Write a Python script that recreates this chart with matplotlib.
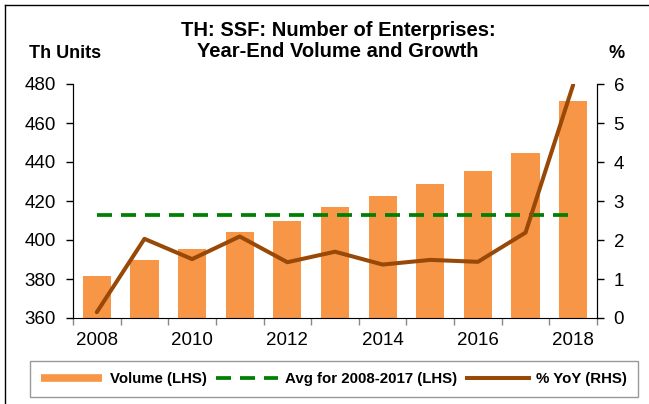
import matplotlib
matplotlib.use("Agg")
import matplotlib.pyplot as plt
from matplotlib.lines import Line2D
import numpy as np

plt.rcParams["font.family"] = ["Liberation Sans", "DejaVu Sans"]

years = [2008, 2009, 2010, 2011, 2012, 2013, 2014, 2015, 2016, 2017, 2018]
volume = [381.7, 389.6, 395.5, 404.0, 409.6, 416.9, 422.4, 428.7, 435.2, 444.4, 471.3]
yoy = [0.15, 2.03, 1.51, 2.09, 1.43, 1.70, 1.37, 1.49, 1.44, 2.19, 5.98]
avg_value = 412.8  # mean of 2008-2017 volumes

ORANGE = "#F79646"
BROWN = "#984807"
GREEN = "#008000"
DASH = (0, (4, 2.4))

W, H = 649, 404
fig = plt.figure(figsize=(W / 100, H / 100), dpi=100)
ax = fig.add_axes([73 / W, 86 / H, 524 / W, 234 / H])
ax2 = ax.twinx()

x = np.arange(len(years))
ax.bar(x, volume, width=0.59, color=ORANGE, zorder=2)
ax.plot(x, [avg_value] * len(x), color=GREEN, lw=2.7, ls=DASH, zorder=3)
ax2.plot(x, yoy, color=BROWN, lw=2.9, solid_capstyle="round", zorder=4)

ax.set_xlim(-0.5, len(years) - 0.5)
ax.set_ylim(360, 480)
ax.set_yticks(np.arange(360, 481, 20))
ax2.set_ylim(0, 6)
ax2.set_yticks(range(0, 7))

ax.set_xticks(x[::2])
ax.set_xticklabels([str(y) for y in years[::2]])
ax.set_xticks(np.arange(-0.5, len(years)), minor=True)
ax.tick_params(axis="x", which="major", length=0, pad=10, labelsize=13.5)
ax.tick_params(axis="x", which="minor", length=5, color="#888888", width=1)
ax.tick_params(axis="y", direction="out", length=5, width=1, color="black",
               labelsize=13.5, pad=7.5)
ax2.tick_params(axis="y", direction="out", length=5, width=1, color="black",
                labelsize=13.5, pad=7)

for a in (ax, ax2):
    a.spines["top"].set_visible(False)
ax2.spines["bottom"].set_visible(False)

fig.text(338 / W, 1 - 41 / H, "TH: SSF: Number of Enterprises:\nYear-End Volume and Growth",
         ha="center", va="center", fontsize=14.5, fontweight="bold", linespacing=1.12)
fig.text(29 / W, 1 - 53 / H, "Th Units", ha="left", va="center",
         fontsize=13, fontweight="bold")
fig.text(617 / W, 1 - 54 / H, "%", ha="center", va="center",
         fontsize=13, fontweight="bold")

handles = [
    Line2D([], [], color=ORANGE, lw=5.5, solid_capstyle="butt"),
    Line2D([], [], color=GREEN, lw=2.7, ls=DASH),
    Line2D([], [], color=BROWN, lw=2.9),
]
labels = ["Volume (LHS)", "Avg for 2008-2017 (LHS)", "% YoY (RHS)"]
leg = fig.legend(handles, labels, loc="center", bbox_to_anchor=(334 / W, 25 / H),
                 ncol=3, frameon=True, fancybox=False, edgecolor="#808080",
                 prop={"weight": "bold", "size": 10.8}, handlelength=4.1,
                 columnspacing=0.65, handletextpad=0.5, borderpad=0.75)
leg.get_frame().set_linewidth(1)

fig.add_artist(Line2D([5 / W, 5 / W], [0, 1 - 5 / H], color="black", lw=1,
                      transform=fig.transFigure))
fig.add_artist(Line2D([5 / W, 1], [1 - 5 / H, 1 - 5 / H], color="black", lw=1,
                      transform=fig.transFigure))

fig.savefig("out.png", dpi=100)
